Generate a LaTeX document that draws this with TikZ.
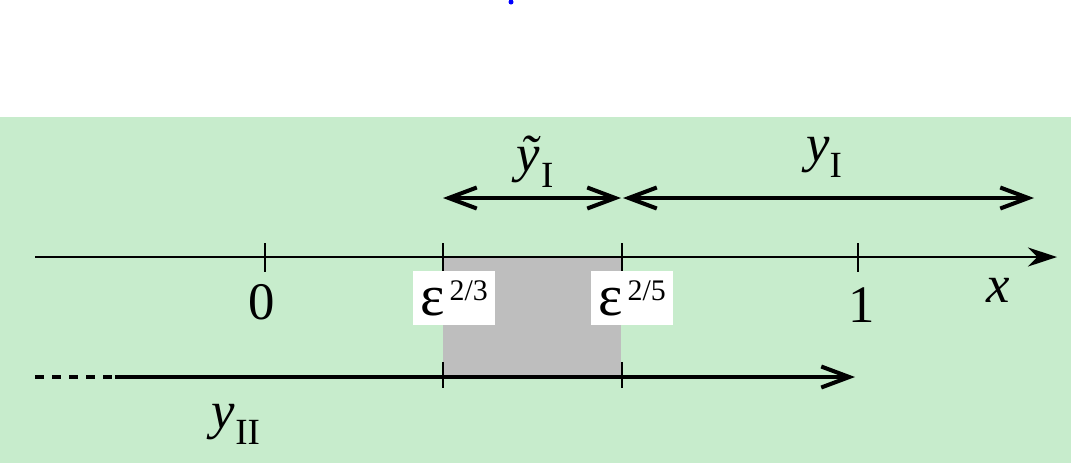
\documentclass[tikz,border=0pt]{standalone}
\usepackage{fontspec}
\setmainfont{Liberation Serif}
\usetikzlibrary{arrows.meta}
\definecolor{bggreen}{RGB}{199,236,204}
\definecolor{shadegray}{RGB}{190,190,190}
\definecolor{dotblue}{RGB}{0,0,255}

\tikzset{
    thinaxis/.style={line width=0.45pt, -{Stealth[length=0.29cm, width=0.19cm]}},
    tickmark/.style={line width=0.45pt},
    region/.style={line width=1.15pt, {Straight Barb[length=0.28cm, width=0.21cm]}-{Straight Barb[length=0.28cm, width=0.21cm]}},
    onesided/.style={line width=1.15pt, -{Straight Barb[length=0.28cm, width=0.21cm]}},
    epsbox/.style={fill=white, inner sep=0pt, minimum width=0.82cm, minimum height=0.53cm},
    lbl/.style={inner sep=0pt, font=\fontsize{15}{17}\selectfont}
}
\newcommand{\epslbl}[1]{{\fontsize{16.5}{17}\selectfont ε}\hspace{1.5pt}\raisebox{4.3pt}{\fontsize{8.5}{9}\selectfont #1}}
\newcommand{\sublbl}[1]{\raisebox{-4.5pt}{\fontsize{10.5}{11}\selectfont #1}}

\begin{document}
\begin{tikzpicture}[x=0.01cm, y=-0.01cm]
    \useasboundingbox (0,0) rectangle (1071,463);
    \fill[dotblue] (511,2) circle (0.025cm);
    \fill[bggreen] (0,117) rectangle (1071,463);

    % overlap region
    \fill[shadegray] (443,257) rectangle (621,377);

    % x axis
    \coordinate (axL) at (35,257);
    \coordinate (axR) at (1057,257);
    \draw[thinaxis] (axL) -- (axR);
    \foreach \t/\nm in {265/tz, 443/ta, 622/tb, 858/tu} {
        \coordinate (\nm) at (\t,257);
        \draw[tickmark] (\t,243) -- (\t,272);
    }
    \node[lbl] (zero) at (262,302) {0};
    \node[lbl] (one) at (862,305) {1};
    \node[lbl] (xlab) at (998,290) {\textit{x}};
    \node[epsbox] (epsA) at (454,298) {\epslbl{2/3}};
    \node[epsbox] (epsB) at (632,298) {\epslbl{2/5}};

    % inner regions
    \coordinate (iA) at (443,198);
    \coordinate (iB) at (621,198);
    \coordinate (iC) at (623,198);
    \coordinate (iD) at (1034,198);
    \draw[region] (iA) -- (iB);
    \draw[region] (iC) -- (iD);
    \node[lbl] (ytil) at (535,162) {\textit{ỹ}\sublbl{I}};
    \node[lbl] (yone) at (824,157) {\textit{y}\sublbl{I}};

    % outer region
    \coordinate (oA) at (35,377);
    \coordinate (oB) at (115,377);
    \coordinate (oC) at (855,377);
    \draw[line width=1pt, dash pattern=on 0.09cm off 0.08cm] (oA) -- (oB);
    \draw[onesided] (oB) -- (oC);
    \foreach \t in {443,622} {
        \draw[tickmark] (\t,362) -- (\t,388);
    }
    \node[lbl] (ytwo) at (236,424) {\textit{y}\sublbl{II}};
\end{tikzpicture}
\end{document}
